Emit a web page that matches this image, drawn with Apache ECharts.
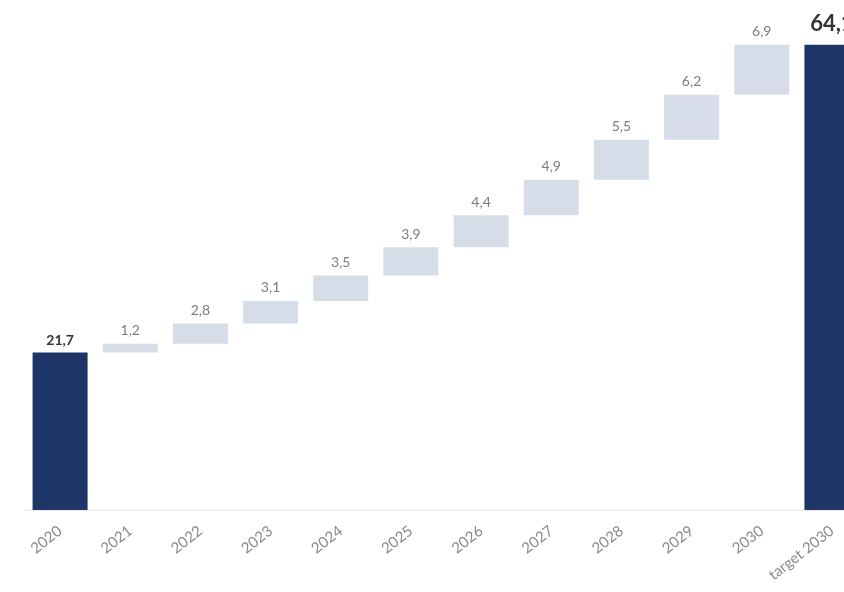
<!DOCTYPE html>
<html>
<head>
<meta charset="utf-8">
<script src="https://cdn.jsdelivr.net/npm/echarts@6/dist/echarts.min.js"></script>
<style>
  html, body { margin: 0; padding: 0; background: #ffffff; }
  #chart { width: 844px; height: 592px; }
</style>
</head>
<body>
<div id="chart"></div>
<script>
// Categories along the x axis
const categories = ['2020', '2021', '2022', '2023', '2024', '2025', '2026', '2027', '2028', '2029', '2030', 'target 2030'];
// Starting total and the yearly increments
const startValue = 21.7;
const increments = [1.2, 2.8, 3.1, 3.5, 3.9, 4.4, 4.9, 5.5, 6.2, 6.9];
// Target total
const targetValue = 64.1;

// Build the waterfall: invisible base + visible step for each year
const n = categories.length;
const baseData = [];
const stepData = [];
const totalData = [];
let running = startValue;
baseData.push('-');
stepData.push('-');
totalData.push(startValue);
increments.forEach(v => {
  baseData.push(+running.toFixed(1));
  stepData.push(v);
  totalData.push('-');
  running += v;
});
baseData.push('-');
stepData.push('-');
totalData.push(targetValue);

const fmt = v => String(v).replace('.', ',');
const FONT = 'Lato, "Liberation Sans", sans-serif';

const chart = echarts.init(document.getElementById('chart'), null, { renderer: 'canvas' });
chart.setOption({
  animation: false,
  backgroundColor: '#ffffff',
  // the last column runs past the right edge of the canvas
  grid: { left: 25, width: 842, top: 31, bottom: 82, containLabel: false, outerBoundsMode: 'none' },
  xAxis: {
    type: 'category',
    data: categories,
    axisLine: { show: true, lineStyle: { color: '#f0f0f0', width: 2 } },
    axisTick: { show: false },
    axisLabel: {
      rotate: 38,
      margin: 19,
      color: '#8a8a8a',
      fontSize: 15,
      fontFamily: FONT,
      interval: 0
    }
  },
  yAxis: {
    type: 'value',
    min: 0,
    max: 66,
    show: false,
    splitLine: { show: false }
  },
  series: [
    {
      name: 'base',
      type: 'bar',
      stack: 'wf',
      barWidth: 55,
      itemStyle: { color: 'transparent' },
      emphasis: { disabled: true },
      data: baseData
    },
    {
      name: 'step',
      type: 'bar',
      stack: 'wf',
      barWidth: 55,
      itemStyle: { color: '#d7dde8' },
      label: {
        show: true,
        position: 'top',
        distance: 6,
        color: '#7d7d7d',
        fontSize: 14,
        fontFamily: FONT,
        formatter: p => fmt(p.value)
      },
      data: stepData
    },
    {
      name: 'total',
      type: 'bar',
      stack: 'wf',
      barWidth: 55,
      itemStyle: { color: '#1e3568' },
      label: {
        show: true,
        position: 'top',
        distance: 5,
        color: '#333333',
        fontWeight: 'bold',
        fontSize: 14,
        fontFamily: FONT,
        formatter: p => fmt(p.value)
      },
      data: totalData.map((v, i) => i === n - 1
        ? { value: v, label: { fontSize: 22, distance: 10 } }
        : v)
    }
  ]
});
</script>
</body>
</html>
